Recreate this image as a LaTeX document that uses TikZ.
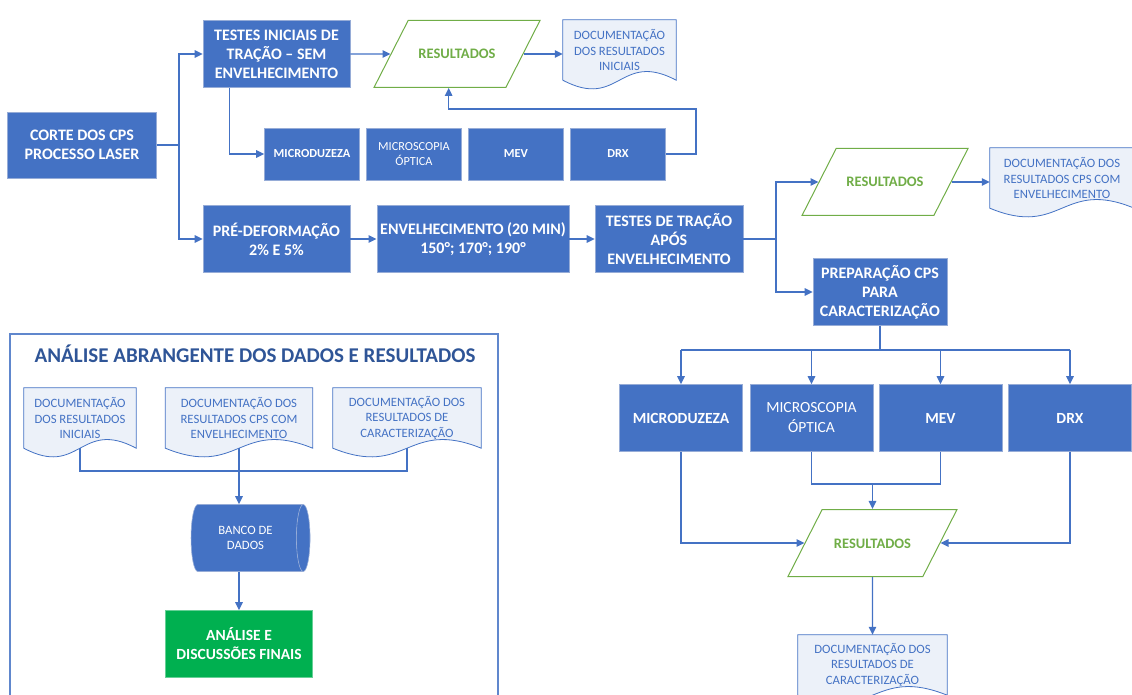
\documentclass[tikz,border=0pt]{standalone}
\usepackage{fontspec}
\setmainfont{Carlito}
\usepackage{xcolor}
\usetikzlibrary{shapes.geometric,arrows.meta,positioning,calc,backgrounds}
\definecolor{procblue}{RGB}{68,114,196}
\definecolor{procedge}{RGB}{150,172,215}
\definecolor{linkblue}{RGB}{68,114,196}
\definecolor{resgreen}{RGB}{112,173,71}
\definecolor{docblue}{RGB}{68,114,196}
\definecolor{docfill}{RGB}{236,241,249}
\definecolor{finalgreen}{RGB}{0,176,80}
\definecolor{titleblue}{RGB}{47,85,151}

% document outline (flat top, wavy bottom) around a named node
\newcommand{\docoutline}[1]{%
 \begin{pgfonlayer}{background}
 \path[docline] (#1.south west) -- (#1.north west) -- (#1.north east) -- (#1.south east)
 .. controls ($(#1.south)+(0,-30)$) and ($(#1.south)+(0,30)$) .. (#1.south west) -- cycle;
 \end{pgfonlayer}}

\begin{document}
\begin{tikzpicture}[x=1pt, y=-1pt,
 process/.style={rectangle, draw=procedge, line width=0.6pt, fill=procblue, text=white, align=center, font=\bfseries\fontsize{16}{19}\selectfont},
 test/.style={rectangle, draw=procedge, line width=0.6pt, fill=procblue, text=white, align=center, minimum width=95, minimum height=52, font=\bfseries\fontsize{12.3}{15}\selectfont},
 results/.style={trapezium, trapezium left angle=63, trapezium right angle=117, trapezium stretches body=true, draw=resgreen, line width=1pt, text=resgreen, text height=10pt, text depth=0pt, inner ysep=28.5pt, minimum width=166, font=\bfseries\fontsize{14.5}{17}\selectfont},
 doc/.style={rectangle, text=docblue, align=center, inner sep=1pt, minimum height=60, font=\fontsize{12.7}{15.3}\selectfont},
 docline/.style={draw=docblue, line width=0.8pt, fill=docfill},
 bank/.style={cylinder, shape border rotate=0, aspect=0.45, minimum height=119, minimum width=67, draw=procedge, line width=0.6pt, cylinder uses custom fill, cylinder body fill=procblue, cylinder end fill=procblue, text=white, align=center, font=\fontsize{12.7}{15.3}\selectfont},
 link/.style={draw=linkblue, line width=1.3pt},
 arrow/.style={link, -{Triangle[length=8pt,width=7.5pt]}}
]
\useasboundingbox (0,0) rectangle (1132,695);

% Start
\node[process, minimum width=149, minimum height=66] (corte) at (82,145) {CORTE DOS CPS\\PROCESSO LASER};

% Branch without ageing
\node[process, minimum width=147, minimum height=67] (tinic) at (276.5,54) {TESTES INICIAIS DE\\TRAÇÃO – SEM\\ENVELHECIMENTO};
\node[results] (res1) at (457,54) {RESULTADOS};
\node[doc, minimum width=113] (doc1) at (619.5,50) {DOCUMENTAÇÃO\\DOS RESULTADOS\\INICIAIS};
\docoutline{doc1}

% Tests row (top)
\node[test] (micro1) at (312,154) {MICRODUZEZA};
\node[test, font=\mdseries\fontsize{12.3}{15}\selectfont] (opt1) at (414,154) {MICROSCOPIA\\ÓPTICA};
\node[test] (mev1) at (516,154) {MEV};
\node[test] (drx1) at (618,154) {DRX};

% Branch with ageing
\node[process, minimum width=147, minimum height=67] (pre) at (276.5,239) {PRÉ-DEFORMAÇÃO\\2\% E 5\%};
\node[process, minimum width=190, minimum height=67] (env) at (473,239) {ENVELHECIMENTO (20 MIN)\\150°; 170°; 190°};
\node[process, minimum width=148, minimum height=67] (tapos) at (669,239) {TESTES DE TRAÇÃO\\APÓS\\ENVELHECIMENTO};
\node[results] (res2) at (885,182) {RESULTADOS};
\node[doc, minimum width=144] (doc2) at (1062,178) {DOCUMENTAÇÃO DOS\\RESULTADOS CPS COM\\ENVELHECIMENTO};
\docoutline{doc2}
\node[process, minimum width=134, minimum height=67] (prep) at (880,292) {PREPARAÇÃO CPS\\PARA\\CARACTERIZAÇÃO};

% Tests row (bottom)
\node[process, minimum width=123, minimum height=67, font=\bfseries\fontsize{15.5}{20}\selectfont] (micro2) at (681,418) {MICRODUZEZA};
\node[process, minimum width=123, minimum height=67, font=\mdseries\fontsize{15.5}{20}\selectfont] (opt2) at (811.5,418) {MICROSCOPIA\\ÓPTICA};
\node[process, minimum width=123, minimum height=67, font=\bfseries\fontsize{15.5}{20}\selectfont] (mev2) at (940.5,418) {MEV};
\node[process, minimum width=123, minimum height=67, font=\bfseries\fontsize{15.5}{20}\selectfont] (drx2) at (1070,418) {DRX};
\node[results, minimum width=169] (res3) at (872.5,543) {RESULTADOS};
\node[doc, minimum width=149] (doc3) at (872.5,665) {DOCUMENTAÇÃO DOS\\RESULTADOS DE\\CARACTERIZAÇÃO};
\docoutline{doc3}

% Analysis frame
\draw[draw=procblue!85, line width=1.3pt] (10,700) -- (10,334) -- (498,334) -- (498,700);
\node[text=titleblue, font=\bfseries\fontsize{21}{25}\selectfont] (title) at (255,354) {ANÁLISE ABRANGENTE DOS DADOS E RESULTADOS};
\node[doc, minimum width=112] (docA) at (80,418) {DOCUMENTAÇÃO\\DOS RESULTADOS\\INICIAIS};
\docoutline{docA}
\node[doc, minimum width=147] (docB) at (239,418) {DOCUMENTAÇÃO DOS\\RESULTADOS CPS COM\\ENVELHECIMENTO};
\docoutline{docB}
\node[doc, minimum width=148] (docC) at (407,418) {DOCUMENTAÇÃO DOS\\RESULTADOS DE\\CARACTERIZAÇÃO};
\docoutline{docC}
\node[bank] (banco) at (245.5,538) {BANCO DE\\DADOS};
\node[process, fill=finalgreen, draw=finalgreen!60!white, minimum width=147, minimum height=67, font=\bfseries\fontsize{15.5}{19}\selectfont] (final) at (239,644) {ANÁLISE E\\DISCUSSÕES FINAIS};

% Arrows - start
\coordinate (trunkA) at (179,145);
\draw[link] (corte.east) -- (trunkA);
\draw[arrow] (trunkA) |- (tinic.west);
\draw[arrow] (trunkA) |- (pre.west);

% Arrows - without ageing
\draw[arrow] (tinic.east) -- (res1.west);
\draw[arrow] (res1.east) -- (res1.east -| doc1.west);
\draw[arrow] ([xshift=27pt]tinic.south west) |- (micro1.west);
\coordinate (fback) at (696,109);
\draw[arrow] (drx1.east) -| (fback) -| ([xshift=9pt]res1.bottom side);

% Arrows - with ageing
\draw[arrow] (pre) -- (env);
\draw[arrow] (env) -- (tapos);
\coordinate (trunkB) at (776,239);
\draw[link] (tapos.east) -- (trunkB);
\draw[arrow] (trunkB) |- (res2.west);
\draw[arrow] (trunkB) |- (prep.west);
\draw[arrow] (res2.east) -- (res2.east -| doc2.west);

% Arrows - characterisation
\coordinate (busR) at (880,350);
\draw[link] (prep.south) -- (busR);
\draw[link] (micro2.north |- busR) -- (drx2.north |- busR);
\foreach \n in {micro2,opt2,mev2,drx2}
 \draw[arrow] (\n.north |- busR) -- (\n.north);
\draw[arrow] (micro2.south) |- (res3.west);
\draw[arrow] (drx2.south) |- (res3.east);
\coordinate (joinR) at (872.5,484);
\draw[link] (opt2.south) |- (joinR) -| (mev2.south);
\draw[arrow] (joinR) -- (joinR |- res3.north);
\draw[arrow] (res3.south) -- (doc3.north);

% Arrows - analysis
\coordinate (busL) at (239,471);
\draw[link] (docA.south) |- (busL) -| (docC.south);
\draw[arrow] (docB.south) -- (docB.south |- banco.north);
\draw[arrow] (banco.south -| final.north) -- (final.north);

\end{tikzpicture}
\end{document}
